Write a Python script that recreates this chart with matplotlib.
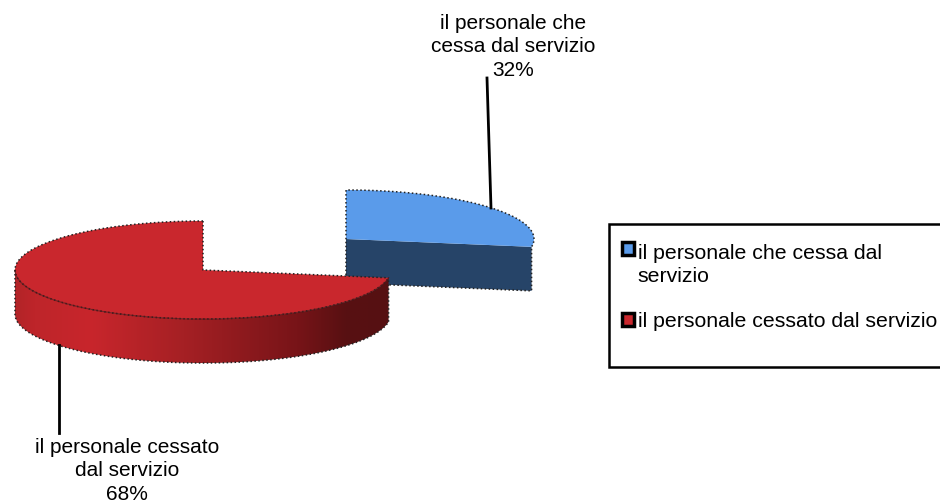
"""Exploded 3D-look pie: personale che cessa / cessato dal servizio."""
import matplotlib.pyplot as plt
import numpy as np
from matplotlib.patches import Patch, Polygon, Rectangle

plt.rcParams["font.family"] = ["Liberation Sans", "DejaVu Sans"]

legend_labels = ["il personale che cessa dal\nservizio", "il personale cessato dal servizio"]
slice_labels = ["il personale che\ncessa dal servizio\n32%", "il personale cessato\ndal servizio\n68%"]
shares = [32, 68]

RX, RY, DEPTH = 188, 49, 44
TILT = 16  # the 3D view squeezes the split angle
BLUE_TOP, BLUE_SIDE = "#5a9bea", "#264468"
RED_TOP = "#c9272d"


def ellipse(cx, cy, t0, t1, n=120):
    t = np.radians(np.linspace(t0, t1, n))
    return np.column_stack([cx + RX * np.cos(t), cy - RY * np.sin(t)])


def outline(ax, pts, zorder):
    ax.plot(pts[:, 0], pts[:, 1], color="#222222", lw=1.1, ls=(0, (1, 1.6)), zorder=zorder)


fig, ax = plt.subplots(figsize=(9.4, 5.04), dpi=100)
ax.set_position([0, 0, 1, 1])
ax.axis("off")

split = 90 - 360 * shares[0] / sum(shares) + TILT

# blue slice, pulled out
bx, by = 346, 239
arc = ellipse(bx, by, 90, split)
front = np.array([[bx, by], arc[-1], arc[-1] + [0, DEPTH], [bx, by + DEPTH]])
ax.add_patch(Polygon(front, fc=BLUE_SIDE, ec="none", zorder=2))
ax.add_patch(Polygon(np.vstack([[bx, by], arc]), fc=BLUE_TOP, ec="none", zorder=3))
outline(ax, np.vstack([[bx, by + DEPTH], [bx, by], arc, arc[-1] + [0, DEPTH], [bx, by + DEPTH]]), 4)

# red slice
rx, ry = 203, 270
arc = ellipse(rx, ry, 90, 360 + split)
low = ellipse(rx, ry + DEPTH, 180, 360 + split)
up = ellipse(rx, ry, 180, 360 + split)
side = Polygon(np.vstack([up, low[::-1]]), fc="none", ec="none", zorder=5)
ax.add_patch(side)
grad_x = np.array([0.0, 0.05, 0.2, 0.45, 0.75, 0.88, 1.0])
grad_c = np.array([[178, 36, 40], [190, 37, 42], [200, 38, 44], [165, 32, 36],
                   [120, 20, 24], [88, 16, 18], [86, 16, 18]]) / 255
xs = np.linspace(0, 1, 256)
img = np.stack([np.interp(xs, grad_x, grad_c[:, i]) for i in range(3)], axis=-1)[None, :, :]
im = ax.imshow(img, extent=[rx - RX, rx + RX, ry + RY + DEPTH + 2, ry - RY], aspect="auto", zorder=5)
im.set_clip_path(side)
ax.add_patch(Polygon(np.vstack([[rx, ry], arc]), fc=RED_TOP, ec="none", zorder=6))
outline(ax, np.vstack([[rx, ry - RY], [rx, ry], arc[-1]]), 7)
outline(ax, arc, 7)
outline(ax, np.vstack([[rx - RX, ry], low, up[-1]]), 7)
ax.plot(up[:, 0], up[:, 1], color="#5a1518", lw=0.8, alpha=0.8, zorder=7)

# leader lines and labels
ax.plot([487, 491], [78, 208], color="black", lw=2, zorder=8)
ax.plot([59, 59], [345, 433], color="black", lw=2, zorder=8)
ax.text(513, 47, slice_labels[0], ha="center", va="center", fontsize=15, linespacing=1.28, color="black")
ax.text(127, 471, slice_labels[1], ha="center", va="center", fontsize=15, linespacing=1.28, color="black")

# legend
ax.add_patch(Rectangle((609, 224), 345, 143, fc="white", ec="black", lw=1.8, zorder=1))
handles = [Patch(fc=BLUE_TOP, ec="black", lw=2.5), Patch(fc=RED_TOP, ec="black", lw=2.5)]
leg = ax.legend(handles, legend_labels, loc="upper left", bbox_to_anchor=(622 / 940, 1 - 244 / 504),
                frameon=False, fontsize=15.3, handlelength=0.55, handleheight=0.55, handletextpad=0.2,
                borderpad=0, borderaxespad=0, labelspacing=1.2, labelcolor="black")
for t in leg.get_texts():
    t.set_linespacing(1.28)
# the key sits beside the first line of the wrapped label, not its middle
leg.legend_handles[0].set_y(leg.legend_handles[0].get_y() + 12)

ax.set_xlim(0, 940)
ax.set_ylim(504, 0)
fig.savefig("out.png", dpi=100)
